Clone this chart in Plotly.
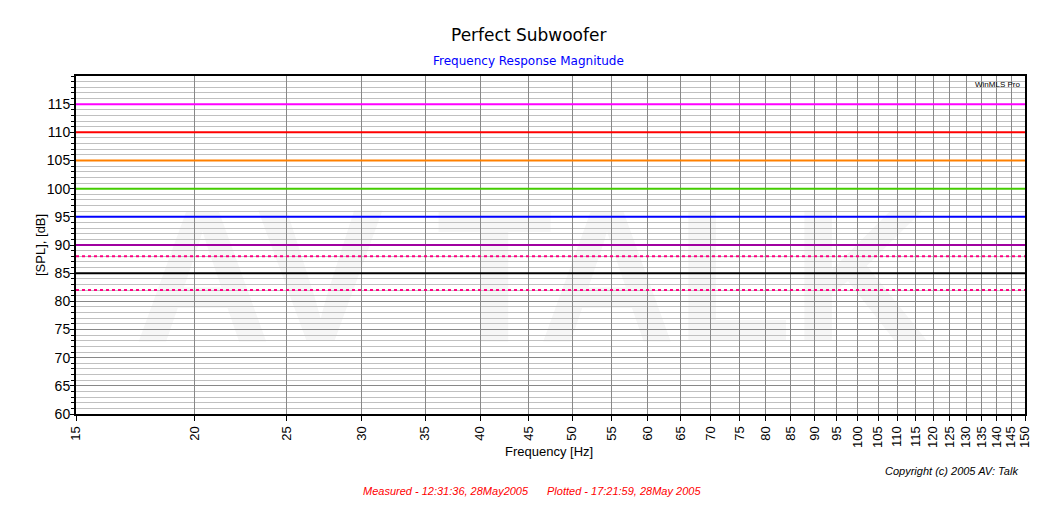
import math
import plotly.graph_objects as go

# ---- data ----
freq_span = [15, 150]
levels = [115, 110, 105, 100, 95, 90, 88, 85, 82]
level_colors = ["#FF00FF", "#FF0000", "#FF8000", "#44CC00", "#0000FF",
                "#A000A0", "#FF0080", "#000000", "#FF0080"]
level_dash = ["solid", "solid", "solid", "solid", "solid", "solid", "dot", "solid", "dot"]
x_ticks = list(range(15, 151, 5))
y_ticks = list(range(60, 116, 5))

# page has an 8px body margin; compensate
OFF = 8
W, H = 1056 - OFF, 519 - OFF
L, R, T, B = 76 - OFF, 31, 76 - OFF, 105
PW, PH = W - L - R, H - T - B

def px(x):  # screen x -> paper
    return (x - OFF - L) / PW

def py(y):  # screen y -> paper
    return (H - B - (y - OFF)) / PH

fig = go.Figure()
for lv, c, d in zip(levels, level_colors, level_dash):
    fig.add_trace(go.Scatter(
        x=freq_span, y=[lv, lv], mode="lines",
        line=dict(color=c, width=2, dash=d),
        showlegend=False, hoverinfo="skip"))

fig.update_layout(
    width=W, height=H,
    margin=dict(l=L, r=R, t=T, b=B, autoexpand=False),
    paper_bgcolor="white", plot_bgcolor="rgba(0,0,0,0)",
    font=dict(family="Arial, Liberation Sans", color="black"),
)

fig.update_xaxes(
    type="log", range=[math.log10(15), math.log10(150)],
    tickvals=x_ticks, ticktext=[str(v) for v in x_ticks],
    tickangle=-90, tickfont=dict(size=13),
    ticks="outside", ticklen=5, tickcolor="black",
    showgrid=True, gridcolor="#888888", gridwidth=1,
    showline=True, linecolor="black", linewidth=2, mirror=True,
    zeroline=False,
)
fig.update_yaxes(
    range=[60, 120],
    tickvals=y_ticks, tickfont=dict(size=14),
    ticks="outside", ticklen=4, tickcolor="black", ticklabelstandoff=-3,
    showgrid=True, gridcolor="#888888", gridwidth=1,
    minor=dict(dtick=1, showgrid=True, gridcolor="#C0C0C0", gridwidth=1,
               ticks="outside", ticklen=3, tickcolor="black"),
    showline=True, linecolor="black", linewidth=2, mirror=True,
    zeroline=False,
)

# faint watermark under the grid
fig.add_shape(type="rect", xref="paper", yref="paper", x0=0.1, x1=0.86, y0=0.03, y1=0.9,
              line=dict(width=0), fillcolor="rgba(0,0,0,0)", layer="below",
              label=dict(text="<b>AV TALK</b>", font=dict(size=190, color="#F6F6F6",
                                                    family="Arial"),
                         textposition="middle center"))

fig.add_annotation(text="Frequency [Hz]", xref="paper", yref="paper",
                   x=px(549), y=py(452), showarrow=False, xanchor="center", yanchor="middle",
                   font=dict(size=13, color="black"))
fig.add_annotation(text="[SPL], [dB]", xref="paper", yref="paper", textangle=-90,
                   x=px(40), y=py(245), showarrow=False, xanchor="center", yanchor="middle",
                   font=dict(size=13, color="black"))
fig.add_annotation(text="Perfect Subwoofer", xref="paper", yref="paper",
                   x=px(528), y=py(35), showarrow=False, xanchor="center", yanchor="middle",
                   font=dict(size=17, family="DejaVu Sans", color="black"))
fig.add_annotation(text="Frequency Response Magnitude", xref="paper", yref="paper",
                   x=px(528), y=py(61), showarrow=False, xanchor="center", yanchor="middle",
                   font=dict(size=12, family="DejaVu Sans", color="#0000FF"))
fig.add_annotation(text="WinMLS Pro", xref="paper", yref="paper", x=0.997, y=0.995,
                   xanchor="right", yanchor="top", showarrow=False,
                   font=dict(size=8, color="black", family="Arial"))
fig.add_annotation(text="<i>Copyright (c) 2005 AV: Talk</i>", xref="paper", yref="paper",
                   x=px(1020), y=py(471), xanchor="right", yanchor="middle", showarrow=False,
                   font=dict(size=11, color="black"))
fig.add_annotation(text="<i>Measured - 12:31:36, 28May2005</i>", xref="paper", yref="paper",
                   x=px(361), y=py(491), xanchor="left", yanchor="middle", showarrow=False,
                   font=dict(size=11, color="#FF0000"))
fig.add_annotation(text="<i>Plotted - 17:21:59, 28May 2005</i>", xref="paper", yref="paper",
                   x=px(545), y=py(491), xanchor="left", yanchor="middle", showarrow=False,
                   font=dict(size=11, color="#FF0000"))

fig.write_html("out.html")
